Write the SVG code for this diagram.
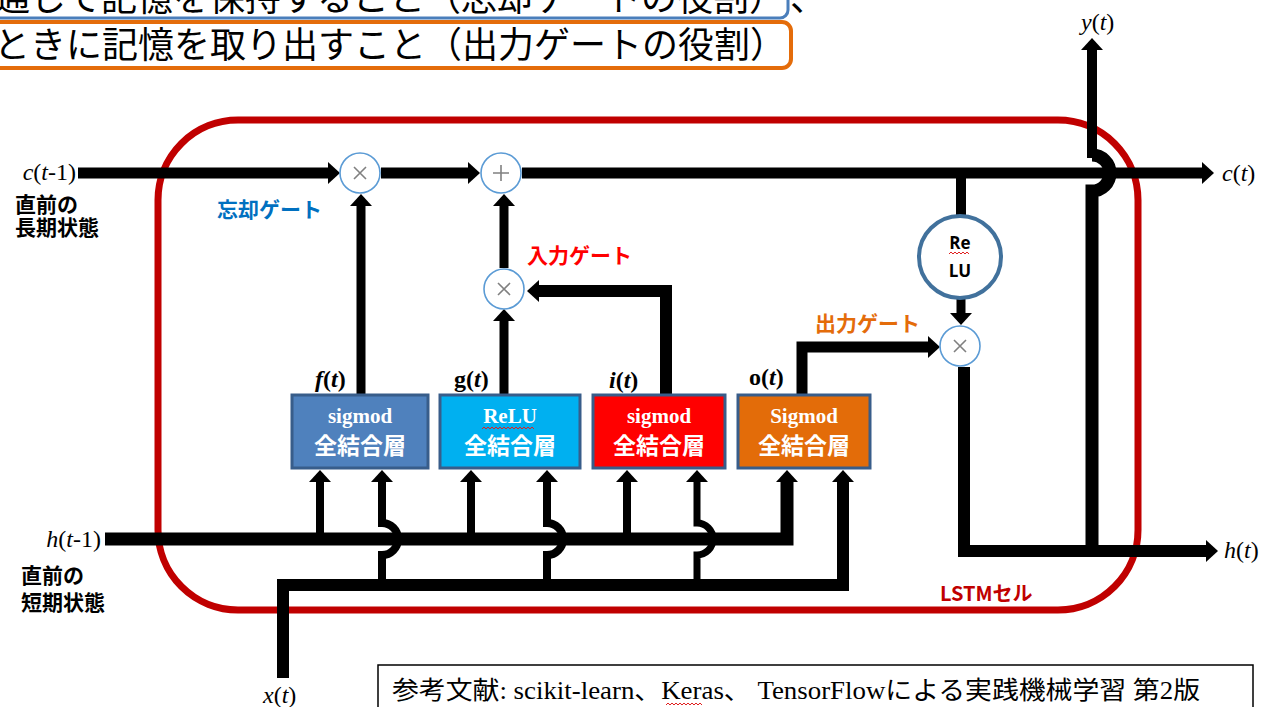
<svg xmlns="http://www.w3.org/2000/svg" width="1261" height="707" viewBox="0 0 1261 707">
<defs>
<marker id="ah" viewBox="0 0 12 22" markerWidth="12" markerHeight="22" markerUnits="userSpaceOnUse" refX="0" refY="11" orient="auto">
<path d="M0,0 L12,11 L0,22 z" fill="#000"/>
</marker>
</defs>
<style>
.ln{fill:none;stroke:#000;stroke-width:11;stroke-linejoin:miter;stroke-linecap:butt}
.op{fill:#fff;stroke:#5B9BD5;stroke-width:1.6}
.opx{stroke:#808080;stroke-width:1.6;fill:none}
.var{font-family:"Liberation Serif",serif;font-size:24px;fill:#000}
.jp{font-family:"Noto Sans CJK JP",sans-serif;font-weight:bold;font-size:21px;fill:#000}
.box{stroke:#385D8A;stroke-width:3}
.bt1{font-family:"Liberation Serif",serif;font-weight:bold;font-size:21px;fill:#fff;text-anchor:middle}
.bt2{font-family:"Noto Sans CJK JP",sans-serif;font-weight:bold;font-size:23px;fill:#fff;text-anchor:middle}
.sq{fill:none;stroke:#E02020;stroke-width:1}
.gl{font-family:"Noto Sans CJK JP",sans-serif;font-weight:bold;font-size:21px}
.hd{font-family:"Noto Sans CJK JP",sans-serif;font-size:36px;fill:#000}
</style>
<rect width="1261" height="707" fill="#fff"/>

<g id="header">
<rect x="-20" y="-40" width="808" height="58" rx="8" fill="none" stroke="#4A7EBB" stroke-width="3"/>
<text class="hd" x="-6" y="11">通して記憶を保持すること（忘却ゲートの役割）</text>
<text class="hd" x="790" y="11">、</text>
<rect x="-20" y="22" width="811" height="46" rx="9" fill="none" stroke="#E46C0A" stroke-width="4"/>
<text class="hd" x="-6" y="58">ときに記憶を取り出すこと（出力ゲートの役割）</text>
</g>

<g id="lstm-cell">
<rect x="158" y="120" width="980" height="490" rx="80" fill="none" stroke="#C00000" stroke-width="7"/>
<text x="940" y="601" font-family="Noto Sans CJK JP, sans-serif" font-weight="bold" font-size="20" fill="#C00000">LSTMセル</text>
</g>

<g id="connectors">
<path class="ln" d="M78,173 H328" marker-end="url(#ah)"/>
<path class="ln" d="M381,173 H468" marker-end="url(#ah)"/>
<path class="ln" d="M522,173 H1202" marker-end="url(#ah)"/>
<path class="ln" style="stroke-width:9" d="M361,394 V206" marker-end="url(#ah)"/>
<path class="ln" style="stroke-width:9" d="M504,394 V321" marker-end="url(#ah)"/>
<path class="ln" style="stroke-width:9" d="M504,268 V206" marker-end="url(#ah)"/>
<path class="ln" style="stroke-width:12" d="M666,394 V291 H539" marker-end="url(#ah)"/>
<path class="ln" d="M802,394 V347 H928" marker-end="url(#ah)"/>
<path class="ln" style="stroke-width:10" d="M961,173 V216"/>
<path class="ln" style="stroke-width:9" d="M961,298 V313" marker-end="url(#ah)"/>
<path class="ln" style="stroke-width:12" d="M964,367 V551 H1206" marker-end="url(#ah)"/>
<path class="ln" style="stroke-width:13" d="M1092,551 V191 A18,18 0 0 0 1092,155"/>
<path class="ln" style="stroke-width:10" d="M1092,158 V50" marker-end="url(#ah)"/>
<path class="ln" style="stroke-width:13" d="M105,539 H787 V482" marker-end="url(#ah)"/>
<path class="ln" style="stroke-width:12" d="M283,678 V585 H843 V482" marker-end="url(#ah)"/>
<path class="ln" style="stroke-width:8" d="M320,539 V482" marker-end="url(#ah)"/>
<path class="ln" style="stroke-width:8" d="M471,539 V482" marker-end="url(#ah)"/>
<path class="ln" style="stroke-width:8" d="M627,539 V482" marker-end="url(#ah)"/>
<path class="ln" style="stroke-width:8" d="M382,585 V555 A16,16 0 0 0 382,523 V482" marker-end="url(#ah)"/>
<path class="ln" style="stroke-width:8" d="M547,585 V555 A16,16 0 0 0 547,523 V482" marker-end="url(#ah)"/>
<path class="ln" style="stroke-width:7" d="M697,585 V555 A16,16 0 0 0 697,523 V482" marker-end="url(#ah)"/>
</g>

<g id="forget-mul">
<circle class="op" cx="360" cy="173" r="20"/>
<path class="opx" d="M354,167 L366,179 M366,167 L354,179"/>
</g>
<g id="add">
<circle class="op" cx="501" cy="173" r="20"/>
<path class="opx" d="M501,165 V181 M493,173 H509"/>
</g>
<g id="input-mul">
<circle class="op" cx="504" cy="289" r="20"/>
<path class="opx" d="M498,283 L510,295 M510,283 L498,295"/>
</g>
<g id="output-mul">
<circle class="op" cx="960" cy="346" r="20"/>
<path class="opx" d="M954,340 L966,352 M966,340 L954,352"/>
</g>
<g id="relu">
<circle cx="960" cy="257" r="41" fill="#fff" stroke="#41719C" stroke-width="4"/>
<text x="960" y="249" text-anchor="middle" font-family="Open Sans, sans-serif" font-weight="bold" font-size="17" fill="#000">Re</text>
<path class="sq" d="M949,254 l2,-2 l2,2 l2,-2 l2,2 l2,-2 l2,2 l2,-2 l2,2 l2,-2 l2,2"/>
<text x="960" y="277" text-anchor="middle" font-family="Open Sans, sans-serif" font-weight="bold" font-size="17" fill="#000">LU</text>
</g>

<g id="fc-f">
<rect class="box" x="292" y="395" width="136" height="73" fill="#4F81BD"/>
<text class="bt1" x="360" y="423">sigmod</text>
<text class="bt2" x="360" y="454">全結合層</text>
</g>
<g id="fc-g">
<rect class="box" x="440" y="395" width="140" height="73" fill="#00B0F0"/>
<text class="bt1" x="510" y="423">ReLU</text>
<path class="sq" d="M482,429 l2,-2 l2,2 l2,-2 l2,2 l2,-2 l2,2 l2,-2 l2,2 l2,-2 l2,2 l2,-2 l2,2 l2,-2 l2,2 l2,-2 l2,2 l2,-2 l2,2 l2,-2 l2,2 l2,-2 l2,2 l2,-2 l2,2 l2,-2 l2,2"/>
<text class="bt2" x="510" y="454">全結合層</text>
</g>
<g id="fc-i">
<rect class="box" x="593" y="395" width="132" height="73" fill="#FF0000"/>
<text class="bt1" x="659" y="423">sigmod</text>
<text class="bt2" x="659" y="454">全結合層</text>
</g>
<g id="fc-o">
<rect class="box" x="738" y="395" width="132" height="73" fill="#E36C09"/>
<text class="bt1" x="804" y="423">Sigmod</text>
<text class="bt2" x="804" y="454">全結合層</text>
</g>

<g id="labels">
<text class="var" x="76" y="180" text-anchor="end"><tspan font-style="italic">c</tspan>(<tspan font-style="italic">t</tspan>-1)</text>
<text class="jp" x="15" y="212">直前の</text>
<text class="jp" x="15" y="235">長期状態</text>
<text class="var" x="101" y="547" text-anchor="end"><tspan font-style="italic">h</tspan>(<tspan font-style="italic">t</tspan>-1)</text>
<text class="jp" x="21" y="583">直前の</text>
<text class="jp" x="21" y="610">短期状態</text>
<text class="var" x="263" y="703"><tspan font-style="italic">x</tspan>(<tspan font-style="italic">t</tspan>)</text>
<text class="var" x="1222" y="181"><tspan font-style="italic">c</tspan>(<tspan font-style="italic">t</tspan>)</text>
<text class="var" x="1224" y="558"><tspan font-style="italic">h</tspan>(<tspan font-style="italic">t</tspan>)</text>
<text class="var" x="1081" y="30"><tspan font-style="italic">y</tspan>(<tspan font-style="italic">t</tspan>)</text>
<text class="var" x="315" y="387" font-weight="bold"><tspan font-style="italic">f</tspan>(<tspan font-style="italic">t</tspan>)</text>
<text class="var" x="454" y="387" font-weight="bold">g(<tspan font-style="italic">t</tspan>)</text>
<text class="var" x="609" y="388" font-weight="bold"><tspan font-style="italic">i</tspan>(<tspan font-style="italic">t</tspan>)</text>
<text class="var" x="749" y="385" font-weight="bold">o(<tspan font-style="italic">t</tspan>)</text>
<text class="gl" x="217" y="217" fill="#0070C0">忘却ゲート</text>
<text class="gl" x="527" y="263" fill="#FF0000">入力ゲート</text>
<text class="gl" x="815" y="331" fill="#E46C0A">出力ゲート</text>
</g>

<g id="reference">
<rect x="378" y="665" width="875" height="60" fill="#fff" stroke="#000" stroke-width="1.5"/>
<text x="392" y="699" font-family="Liberation Serif, Noto Sans CJK JP, serif" font-size="25" fill="#000" textLength="808" lengthAdjust="spacingAndGlyphs">参考文献: scikit-learn、Keras、 TensorFlowによる実践機械学習 第2版</text>
<path class="sq" d="M666,705 l2,-2 l2,2 l2,-2 l2,2 l2,-2 l2,2 l2,-2 l2,2 l2,-2 l2,2 l2,-2 l2,2 l2,-2 l2,2 l2,-2 l2,2 l2,-2 l2,2"/>
</g>
</svg>
